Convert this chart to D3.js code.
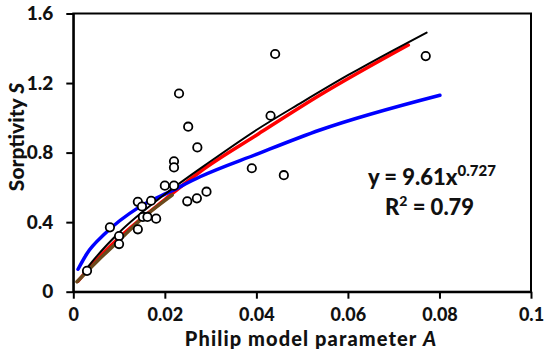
<!DOCTYPE html>
<html>
<head>
<meta charset="utf-8">
<script src="https://cdn.jsdelivr.net/npm/d3@7"></script>
<style>
  body { margin: 0; background: #fff; }
  text { font-family: Lato, "Open Sans", sans-serif; font-weight: 900; fill: #111; }
</style>
</head>
<body>
<div id="chart"></div>
<script>
/* DATA */
// measured points (Philip parameter A, sorptivity S)
const pointsA = [0.003, 0.008, 0.010, 0.010, 0.0141, 0.0141, 0.015, 0.0152, 0.0162, 0.017, 0.0181,
  0.020, 0.022, 0.022, 0.022, 0.0231, 0.0249, 0.0251, 0.027, 0.0271, 0.0291, 0.039, 0.0431, 0.0441, 0.046, 0.077];
const pointsS = [0.12, 0.37, 0.32, 0.274, 0.517, 0.359, 0.49, 0.43, 0.43, 0.523, 0.42,
  0.61, 0.61, 0.75, 0.715, 1.14, 0.52, 0.949, 0.537, 0.83, 0.575, 0.71, 1.012, 1.367, 0.67, 1.355];

// curves
const blackX = [0.0022, 0.005, 0.01, 0.02, 0.03, 0.04, 0.05, 0.06, 0.07, 0.0772];
const blackY = [0.11, 0.20, 0.34, 0.56, 0.75, 0.93, 1.09, 1.245, 1.39, 1.49];
const redX = [0.001, 0.005, 0.01, 0.02, 0.0277, 0.04, 0.0539, 0.0732];
const redY = [0.06, 0.18, 0.31, 0.53, 0.69, 0.90, 1.131, 1.419];
const blueX = [0.00103, 0.003, 0.007, 0.0143, 0.0216, 0.0277, 0.04, 0.0539, 0.0801];
const blueY = [0.129, 0.22, 0.336, 0.485, 0.581, 0.661, 0.79, 0.93, 1.13];
const brownX = [0.0008, 0.005, 0.01, 0.015, 0.0216];
const brownY = [0.057, 0.17, 0.295, 0.42, 0.556];

const xTicks = [0, 0.02, 0.04, 0.06, 0.08, 0.1];
const yTicks = [0, 0.4, 0.8, 1.2, 1.6];

/* LAYOUT */
const W = 550, H = 355;
const margin = { top: 13.5, right: 19, bottom: 63.3, left: 73.3 };
const width = W - margin.left - margin.right;
const height = H - margin.top - margin.bottom;

const svg = d3.select("#chart").append("svg").attr("width", W).attr("height", H);
const g = svg.append("g").attr("transform", `translate(${margin.left},${margin.top})`);

const x = d3.scaleLinear().domain([0, 0.1]).range([0, width]);
const y = d3.scaleLinear().domain([0, 1.6]).range([height, 0]);

// frame
g.append("rect").attr("width", width).attr("height", height)
  .attr("fill", "none").attr("stroke", "#000").attr("stroke-width", 2);

// axes
const xAxis = g.append("g").attr("transform", `translate(0,${height})`)
  .call(d3.axisBottom(x).tickValues(xTicks).tickFormat(d3.format("~g")).tickSize(7).tickSizeOuter(0));
const yAxis = g.append("g")
  .call(d3.axisLeft(y).tickValues(yTicks).tickFormat(d3.format("~g")).tickSize(7).tickSizeOuter(0));
[xAxis, yAxis].forEach((a) => {
  a.select(".domain").attr("stroke-width", 2);
  a.selectAll(".tick line").attr("stroke-width", 2);
  a.selectAll(".tick text").style("font-size", "19px").attr("fill", "#111");
});
xAxis.selectAll(".tick text").style("font-size", "18px").attr("dy", "0.71em").attr("y", 17);
yAxis.selectAll(".tick text").attr("x", -20);

// curves
const line = d3.line().x((d) => x(d[0])).y((d) => y(d[1])).curve(d3.curveMonotoneX);
const curves = [
  { xs: redX, ys: redY, color: "#ff0000", w: 3.5 },
  { xs: brownX, ys: brownY, color: "#6b4a1c", w: 3.5 },
  { xs: blueX, ys: blueY, color: "#0000ff", w: 3.5 },
  { xs: blackX, ys: blackY, color: "#000", w: 2 },
];
curves.forEach((c) => {
  g.append("path").datum(d3.zip(c.xs, c.ys)).attr("d", line)
    .attr("fill", "none").attr("stroke", c.color).attr("stroke-width", c.w)
    .attr("stroke-linecap", "round");
});

// points
g.append("g").selectAll("circle").data(d3.zip(pointsA, pointsS)).enter().append("circle")
  .attr("cx", (d) => x(d[0])).attr("cy", (d) => y(d[1])).attr("r", 4.2)
  .attr("fill", "#fff").attr("stroke", "#000").attr("stroke-width", 1.8);

// equation
const eq = g.append("text").attr("x", 368 - margin.left).attr("y", 185 - margin.top).style("font-size", "22px");
eq.append("tspan").text("y = 9.61x");
eq.append("tspan").text("0.727").attr("dy", -9).style("font-size", "15px");
const r2 = g.append("text").attr("x", 385 - margin.left).attr("y", 215 - margin.top).style("font-size", "22px");
r2.append("tspan").text("R");
r2.append("tspan").text("2").attr("dy", -9).style("font-size", "14px");
r2.append("tspan").text(" = 0.79").attr("dy", 9);

// axis labels
const xl = svg.append("text").attr("x", 311).attr("y", 346).attr("text-anchor", "middle")
  .style("font-size", "20px").style("letter-spacing", "1.1px");
xl.append("tspan").text("Philip model parameter ");
xl.append("tspan").text("A").style("font-style", "italic");

const yl = svg.append("text").attr("transform", "translate(24,137) rotate(-90)")
  .attr("text-anchor", "middle").style("font-size", "21px");
yl.append("tspan").text("Sorptivity ");
yl.append("tspan").text("S").style("font-style", "italic");
</script>
</body>
</html>
